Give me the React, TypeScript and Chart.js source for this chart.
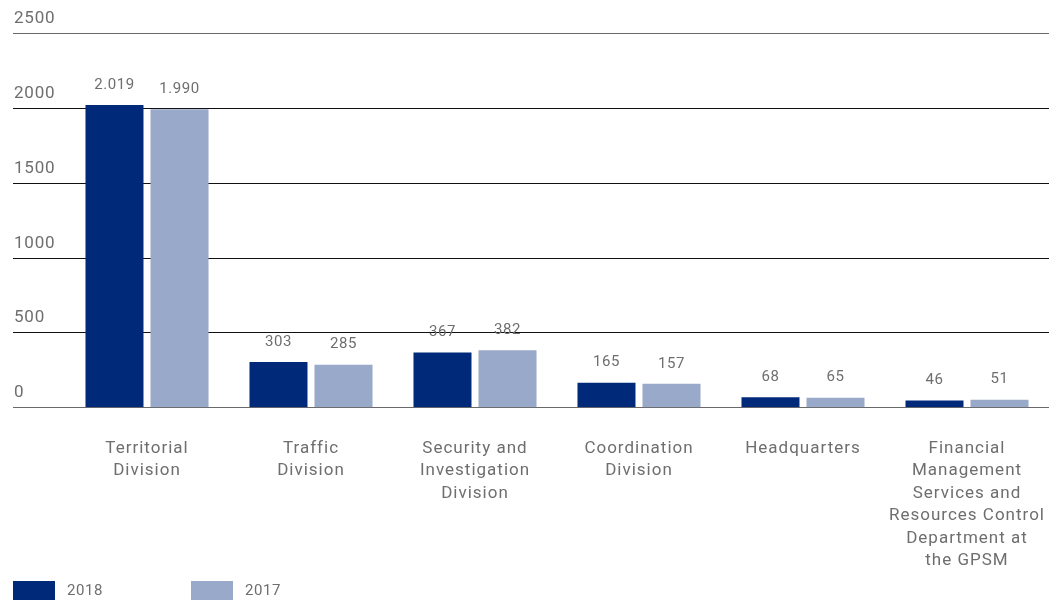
import React, { useEffect, useRef } from "react";
import { Chart, registerables } from "chart.js";

Chart.register(...registerables);

const categories: string[][] = [
  ["Territorial", "Division"],
  ["Traffic", "Division"],
  ["Security and", "Investigation", "Division"],
  ["Coordination", "Division"],
  ["Headquarters"],
  ["Financial", "Management", "Services and", "Resources Control", "Department at", "the GPSM"],
];
const values2018: number[] = [2019, 303, 367, 165, 68, 46];
const values2017: number[] = [1990, 285, 382, 157, 65, 51];
const yTicks: number[] = [0, 500, 1000, 1500, 2000, 2500];

const DARK = "#00297a";
const LIGHT = "#98a9c9";
const TEXT = "#6e6e6e";
const FONT = "Roboto, 'Noto Sans', sans-serif";

function fmt(v: number): string {
  const s = String(Math.round(v));
  return s.replace(/\B(?=(\d{3})+(?!\d))/g, ".");
}

const spacingPlugin = {
  id: "spacing",
  beforeInit(chart: any) {
    chart.ctx.letterSpacing = "1px";
  },
  beforeLayout(chart: any) {
    chart.ctx.letterSpacing = "1px";
  },
  beforeDraw(chart: any) {
    chart.ctx.letterSpacing = "1px";
  },
};

const customPlugin = {
  id: "custom",
  beforeDatasetsDraw(chart: any) {
    const ctx = chart.ctx;
    const y = chart.scales.y;
    const area = chart.chartArea;
    ctx.save();
    yTicks.forEach((v, i) => {
      const py = Math.round(y.getPixelForValue(v)) + 0.5;
      ctx.beginPath();
      ctx.strokeStyle = i === 0 || i === yTicks.length - 1 ? "#6a6a6a" : "#111111";
      ctx.lineWidth = 1.2;
      ctx.moveTo(13, py);
      ctx.lineTo(area.right, py);
      ctx.stroke();
      ctx.fillStyle = TEXT;
      ctx.font = `17px ${FONT}`;
      ctx.letterSpacing = "0.8px";
      ctx.textAlign = "left";
      ctx.textBaseline = "middle";
      ctx.fillText(String(v), 14, py - 15);
    });
    ctx.restore();
  },
  afterDatasetsDraw(chart: any) {
    const ctx = chart.ctx;
    ctx.save();
    ctx.fillStyle = TEXT;
    ctx.font = `15px ${FONT}`;
    ctx.letterSpacing = "0.6px";
    ctx.textAlign = "center";
    ctx.textBaseline = "middle";
    chart.data.datasets.forEach((ds: any, di: number) => {
      const meta = chart.getDatasetMeta(di);
      meta.data.forEach((bar: any, i: number) => {
        ctx.fillText(fmt(ds.data[i]), bar.x, bar.y - 20);
      });
    });
    // legend
    const legendX = [13, 191];
    chart.data.datasets.forEach((ds: any, di: number) => {
      const x = legendX[di];
      ctx.fillStyle = ds.backgroundColor;
      ctx.fillRect(x, 581, 42, 19);
      ctx.fillStyle = TEXT;
      ctx.font = `15px ${FONT}`;
      ctx.textAlign = "left";
      ctx.textBaseline = "middle";
      ctx.fillText(ds.label, x + 54, 591);
    });
    ctx.restore();
  },
};

export default function App() {
  const ref = useRef<HTMLCanvasElement | null>(null);
  useEffect(() => {
    document.body.style.margin = "0";
    const chart = new Chart(ref.current as HTMLCanvasElement, {
      type: "bar",
      data: {
        labels: categories as any,
        datasets: [
          { label: "2018", data: values2018, backgroundColor: DARK },
          { label: "2017", data: values2017, backgroundColor: LIGHT },
        ],
      },
      options: {
        animation: false,
        responsive: false,
        maintainAspectRatio: false,
        layout: { padding: { left: 65, right: 12, top: 33, bottom: 10 } },
        plugins: { legend: { display: false }, tooltip: { enabled: false } },
        datasets: { bar: { categoryPercentage: 0.793, barPercentage: 0.892 } } as any,
        scales: {
          x: {
            grid: { display: false },
            border: { display: false },
            afterFit: (scale: any) => {
              scale.paddingLeft = 0;
              scale.paddingRight = 0;
            },
            ticks: {
              color: TEXT,
              font: { family: FONT, size: 17, lineHeight: 1.32 },
              padding: 22,
              maxRotation: 0,
              autoSkip: false,
            },
          },
          y: {
            display: false,
            min: 0,
            max: 2500,
            ticks: { stepSize: 500 },
          },
        },
      },
      plugins: [spacingPlugin, customPlugin],
    });
    return () => chart.destroy();
  }, []);
  return (
    <div style={{ position: "absolute", left: 0, top: 0, width: 1061, height: 604 }}>
      <canvas ref={ref} width={1061} height={604} />
    </div>
  );
}
